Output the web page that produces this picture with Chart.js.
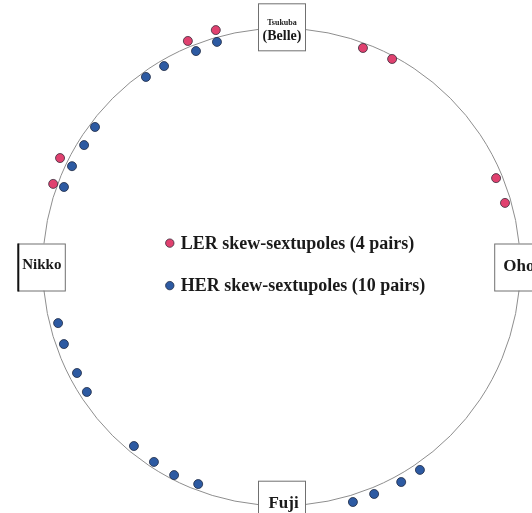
<!DOCTYPE html>
<html>
<head>
<meta charset="utf-8">
<script src="https://cdn.jsdelivr.net/npm/chart.js@4.4.1/dist/chart.umd.min.js"></script>
<style>
  html, body { margin: 0; padding: 0; background: #fff; }
  #wrap { width: 532px; height: 513px; }
</style>
</head>
<body>
<div id="wrap"><canvas id="ring" width="532" height="513"></canvas></div>
<script>
// positions around the ring: angle in degrees, clockwise from Tsukuba (top),
// radius relative to the ring (1 = on the ring)
const lerAngle  = [344.5, 337.5, 20.4, 28.0, 67.5, 74.0, 296.2, 290.0];
const lerRadius = [1.030, 1.025, 0.979, 0.987, 0.973, 0.974, 1.034, 1.018];

const herAngle  = [344.0, 338.4, 329.7, 324.5, 306.9, 301.7, 295.7, 290.2,
                   255.9, 250.5, 242.6, 237.3, 219.5, 213.2, 207.3, 201.0,
                   163.1, 157.8, 150.9, 145.7];
const herRadius = [0.981, 0.973, 0.975, 0.978, 0.977, 0.972, 0.974, 0.971,
                   0.965, 0.967, 0.965, 0.969, 0.972, 0.976, 0.981, 0.974,
                   1.029, 1.027, 1.031, 1.029];

const seriesLabels = ['LER skew-sextupoles (4 pairs)', 'HER skew-sextupoles (10 pairs)'];

// ring stations: name lines, angle on ring
const stationNames  = [['Tsukuba', '(Belle)'], ['Oho'], ['Fuji'], ['Nikko']];
const stationAngles = [0, 90, 180, 270];

function toXY(angles, radii) {
    return angles.map((a, i) => {
        const t = a * Math.PI / 180;
        return { x: radii[i] * Math.sin(t), y: radii[i] * Math.cos(t) };
    });
}

const serif = '"Liberation Serif", "Times New Roman", serif';

const ringPlugin = {
    id: 'ringPlugin',
    beforeDatasetsDraw(chart) {
        const ctx = chart.ctx;
        const xs = chart.scales.x, ys = chart.scales.y;
        const cx = xs.getPixelForValue(0), cy = ys.getPixelForValue(0);
        const rx = xs.getPixelForValue(1) - cx;
        const ry = cy - ys.getPixelForValue(1);

        ctx.save();
        ctx.strokeStyle = '#8e8e8e';
        ctx.lineWidth = 1;
        ctx.beginPath();
        ctx.ellipse(cx, cy, rx, ry, 0, 0, Math.PI * 2);
        ctx.stroke();

        // station boxes
        stationAngles.forEach((a, i) => {
            const t = a * Math.PI / 180;
            const px = xs.getPixelForValue(Math.sin(t));
            const py = ys.getPixelForValue(Math.cos(t));
            const w = 47, h = 47;
            let bx = px - w / 2, by = py - h / 2;
            if (a === 0) by = py - 25;
            if (a === 90) bx = px - 26;
            if (a === 180) by = py - 25;
            if (a === 270) bx = px - 25;
            ctx.fillStyle = '#fff';
            ctx.fillRect(bx, by, w, h);
            ctx.strokeStyle = '#707070';
            ctx.lineWidth = 1;
            ctx.strokeRect(bx + 0.5, by + 0.5, w, h);
            if (a === 270) {
                ctx.strokeStyle = '#111';
                ctx.lineWidth = 2;
                ctx.beginPath();
                ctx.moveTo(bx + 0.5, by);
                ctx.lineTo(bx + 0.5, by + h + 1);
                ctx.stroke();
            }
            ctx.fillStyle = '#1a1a1a';
            ctx.textBaseline = 'middle';
            const names = stationNames[i];
            if (names.length === 2) {
                ctx.textAlign = 'center';
                ctx.font = 'bold 8px ' + serif;
                ctx.fillText(names[0], bx + w / 2 + 0.5, by + 20);
                ctx.font = 'bold 14px ' + serif;
                ctx.fillText(names[1], bx + w / 2 + 0.5, by + 33);
            } else if (a === 90) {
                ctx.textAlign = 'left';
                ctx.font = 'bold 17px ' + serif;
                ctx.fillText(names[0], bx + 9, by + 23);
            } else if (a === 180) {
                ctx.textAlign = 'center';
                ctx.font = 'bold 17px ' + serif;
                ctx.fillText(names[0], bx + w / 2 + 2, by + 23);
            } else {
                ctx.textAlign = 'center';
                ctx.font = 'bold 15px ' + serif;
                ctx.fillText(names[0], bx + w / 2 + 0.5, by + 22);
            }
        });
        ctx.restore();
    },
    afterDatasetsDraw(chart) {
        // legend in the middle of the ring
        const ctx = chart.ctx;
        const xs = chart.scales.x, ys = chart.scales.y;
        const lx = xs.getPixelForValue(-0.468);
        const rows = [ys.getPixelForValue(0.100), ys.getPixelForValue(-0.078)];
        ctx.save();
        chart.data.datasets.forEach((ds, i) => {
            ctx.beginPath();
            ctx.arc(lx, rows[i], 4.2, 0, Math.PI * 2);
            ctx.fillStyle = ds.backgroundColor;
            ctx.fill();
            ctx.lineWidth = 0.8;
            ctx.strokeStyle = ds.borderColor;
            ctx.stroke();
            ctx.fillStyle = '#1a1a1a';
            ctx.font = 'bold 18px ' + serif;
            ctx.textAlign = 'left';
            ctx.textBaseline = 'middle';
            ctx.fillText(ds.label, lx + 11, rows[i] + 1);
        });
        ctx.restore();
    }
};

new Chart(document.getElementById('ring'), {
    type: 'scatter',
    data: {
        datasets: [
            {
                label: seriesLabels[0],
                data: toXY(lerAngle, lerRadius),
                backgroundColor: '#e0416f',
                borderColor: '#3a2a3a',
                borderWidth: 0.8,
                pointRadius: 4.5
            },
            {
                label: seriesLabels[1],
                data: toXY(herAngle, herRadius),
                backgroundColor: '#2d5aa2',
                borderColor: '#1e2a44',
                borderWidth: 0.8,
                pointRadius: 4.5
            }
        ]
    },
    options: {
        responsive: false,
        animation: false,
        devicePixelRatio: 1,
        layout: { padding: 0, autoPadding: false },
        scales: {
            x: { type: 'linear', display: false, min: -1.1793, max: 1.0494 },
            y: { type: 'linear', display: false, min: -1.0306, max: 1.1186 }
        },
        plugins: {
            legend: { display: false },
            tooltip: { enabled: false }
        }
    },
    plugins: [ringPlugin]
});
</script>
</body>
</html>
